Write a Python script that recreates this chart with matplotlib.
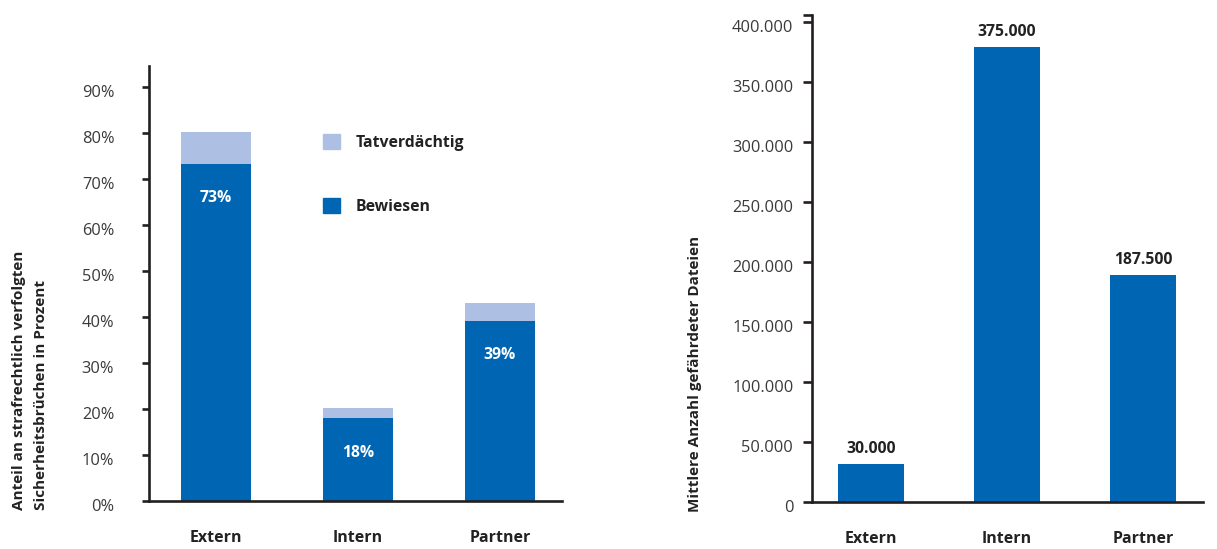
import matplotlib.pyplot as plt
from matplotlib.patches import Patch
from matplotlib.ticker import FuncFormatter
import matplotlib.transforms as mtransforms

plt.rcParams['font.family'] = ['Open Sans', 'DejaVu Sans']

# Daten
kategorien = ["Extern", "Intern", "Partner"]
bewiesen = [73.2, 18.0, 39.2]          # Prozent
tatverdaechtig = [7.0, 2.3, 4.0]       # Prozent, oben drauf
bewiesen_labels = ["73%", "18%", "39%"]

dateien = [31700, 379000, 189000]
dateien_labels = ["30.000", "375.000", "187.500"]

dunkelblau = "#0066b3"
hellblau = "#adc0e3"
achse = "#231f20"
grau = "#3a3a3a"

fig = plt.figure(figsize=(12.17, 5.49), dpi=100)
W, H = 1217, 549


def achsen(l, t, r, b):
    return fig.add_axes([l / W, 1 - b / H, (r - l) / W, (b - t) / H])


def stil(ax, ticklen, pad):
    for s in ["top", "right"]:
        ax.spines[s].set_visible(False)
    for s in ["left", "bottom"]:
        ax.spines[s].set_linewidth(1.9)
        ax.spines[s].set_color(achse)
    ax.tick_params(axis="y", length=ticklen, width=1.9, color=achse,
                   labelsize=11.8, labelcolor=grau, pad=pad)
    ax.tick_params(axis="x", length=0, pad=21, labelsize=11.5)
    for lab in ax.get_xticklabels():
        lab.set_fontweight("bold")
        lab.set_color("#222222")
    off = mtransforms.ScaledTranslation(0, -3 / 72, fig.dpi_scale_trans)
    for lab in ax.get_yticklabels():
        lab.set_transform(lab.get_transform() + off)


# linkes Diagramm
ax1 = achsen(149, 66, 562, 501.3)
x = range(len(kategorien))
ax1.bar(x, bewiesen, width=0.49, color=dunkelblau, label="Bewiesen")
ax1.bar(x, tatverdaechtig, width=0.49, bottom=bewiesen, color=hellblau,
        label="Tatverdächtig")
ax1.set_xlim(-0.472, 2.437)
ax1.set_ylim(0, 94.6)
ax1.set_yticks(range(0, 100, 10))
ax1.yaxis.set_major_formatter(FuncFormatter(lambda v, p: "%d%%" % v))
ax1.set_xticks(list(x))
ax1.set_xticklabels(kategorien)
stil(ax1, 5, 20)
for i, v in enumerate(bewiesen):
    ax1.annotate(bewiesen_labels[i], (i, v), xytext=(0, -24.5),
                 textcoords="offset points", ha="center", va="center",
                 color="white", fontweight="bold", fontsize=11.3)

handles = [Patch(color=hellblau), Patch(color=dunkelblau)]
leg = ax1.legend(handles, ["Tatverdächtig", "Bewiesen"], loc="upper left",
                 bbox_to_anchor=(0.421, 0.844), frameon=False, borderpad=0,
                 borderaxespad=0, handlelength=1.1, handleheight=1.1,
                 handletextpad=1.0, labelspacing=3.0,
                 prop={"weight": "bold", "size": 11.3})
for t in leg.get_texts():
    t.set_color("#222222")

fig.text(30 / W, 1 - 510 / H,
         "Anteil an strafrechtlich verfolgten\nSicherheitsbrüchen in Prozent",
         rotation=90, ha="center", va="bottom", multialignment="left",
         fontweight="bold", fontsize=11, color="#222222", linespacing=1.75)

# rechtes Diagramm
ax2 = achsen(812, 15, 1203, 502)
ax2.bar(x, dateien, width=0.49, color=dunkelblau)
ax2.set_xlim(-0.434, 2.44)
ax2.set_ylim(0, 405800)
ax2.set_yticks(range(0, 400001, 50000))
ax2.set_yticks([405800], minor=True)
ax2.tick_params(axis="y", which="minor", length=6.5, width=1.9, color=achse)
ax2.yaxis.set_major_formatter(
    FuncFormatter(lambda v, p: "{:,.0f}".format(v).replace(",", ".")))
ax2.set_xticks(list(x))
ax2.set_xticklabels(kategorien)
stil(ax2, 6.5, 7)
for i, v in enumerate(dateien):
    ax2.annotate(dateien_labels[i], (i, v), xytext=(0, 5),
                 textcoords="offset points", ha="center", va="bottom",
                 color="#222222", fontweight="bold", fontsize=11.3)

fig.text(695 / W, 1 - 512 / H, "Mittlere Anzahl gefährdeter Dateien",
         rotation=90, ha="center", va="bottom",
         fontweight="bold", fontsize=11, color="#222222")

fig.savefig("out.png", dpi=100)
